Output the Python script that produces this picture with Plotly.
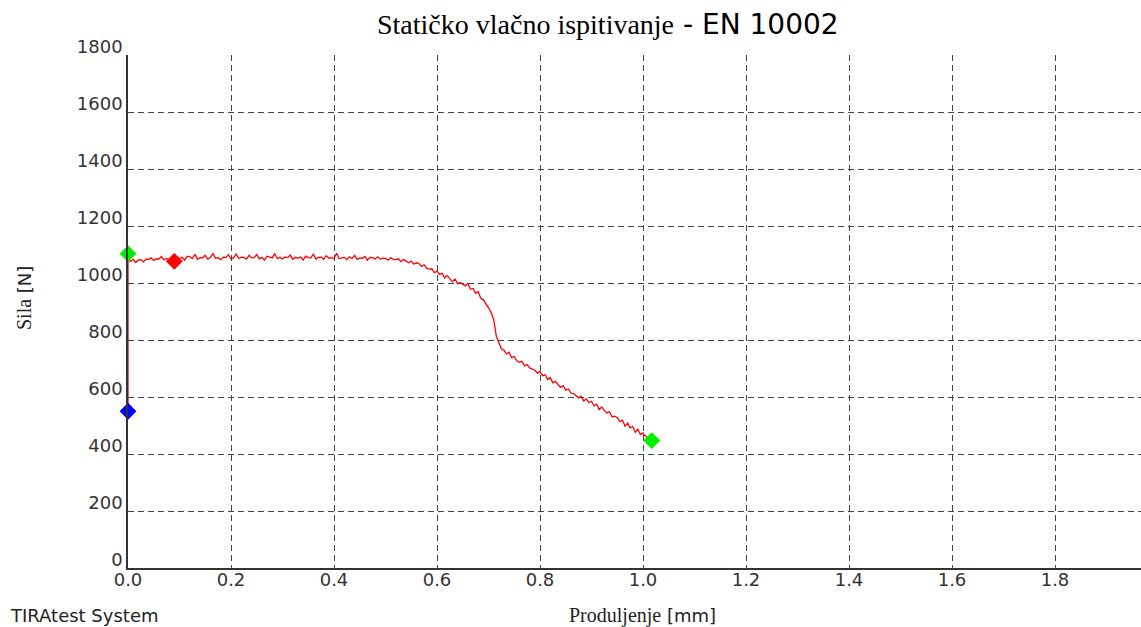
import plotly.graph_objects as go

# Force-elongation curve (Produljenje [mm], Sila [N])
elong = [0.0, 0.0,
         0.000, 0.005, 0.010, 0.015, 0.020, 0.025, 0.030, 0.035, 0.040, 0.045,
         0.050, 0.055, 0.060, 0.065, 0.070, 0.075, 0.080, 0.085, 0.090, 0.095,
         0.100, 0.105, 0.110, 0.115, 0.120, 0.125, 0.130, 0.135, 0.140, 0.145,
         0.150, 0.155, 0.160, 0.165, 0.170, 0.175, 0.180, 0.185, 0.190, 0.195,
         0.200, 0.205, 0.210, 0.215, 0.220, 0.225, 0.230, 0.235, 0.240, 0.245,
         0.250, 0.255, 0.260, 0.265, 0.270, 0.275, 0.280, 0.285, 0.290, 0.295,
         0.300, 0.305, 0.310, 0.315, 0.320, 0.325, 0.330, 0.335, 0.340, 0.345,
         0.350, 0.355, 0.360, 0.365, 0.370, 0.375, 0.380, 0.385, 0.390, 0.395,
         0.400, 0.405, 0.410, 0.415, 0.420, 0.425, 0.430, 0.435, 0.440, 0.445,
         0.450, 0.455, 0.460, 0.465, 0.470, 0.475, 0.480, 0.485, 0.490, 0.495,
         0.500, 0.505, 0.510, 0.515, 0.520, 0.525, 0.530, 0.535, 0.540, 0.545,
         0.550, 0.555, 0.560, 0.565, 0.570, 0.575, 0.580, 0.585, 0.590, 0.595,
         0.600, 0.605, 0.610, 0.615, 0.620, 0.625, 0.630, 0.635, 0.640, 0.645,
         0.650, 0.655, 0.660, 0.665, 0.670, 0.675, 0.680, 0.685, 0.690, 0.695,
         0.700, 0.705, 0.710, 0.715, 0.720, 0.725, 0.730, 0.735, 0.740, 0.745,
         0.750, 0.755, 0.760, 0.765, 0.770, 0.775, 0.780, 0.785, 0.790, 0.795,
         0.800, 0.805, 0.810, 0.815, 0.820, 0.825, 0.830, 0.835, 0.840, 0.845,
         0.850, 0.855, 0.860, 0.865, 0.870, 0.875, 0.880, 0.885, 0.890, 0.895,
         0.900, 0.905, 0.910, 0.915, 0.920, 0.925, 0.930, 0.935, 0.940, 0.945,
         0.950, 0.955, 0.960, 0.965, 0.970, 0.975, 0.980, 0.985, 0.990, 0.995,
         1.000, 1.005, 1.010, 1.015]

force = [550, 1080,
         1080, 1076, 1083, 1072, 1081, 1082, 1074, 1084, 1083, 1088,
         1079, 1085, 1084, 1093, 1081, 1086, 1083, 1078, 1084, 1076,
         1086, 1090, 1080, 1094, 1092, 1086, 1101, 1083, 1089, 1088,
         1097, 1084, 1090, 1103, 1087, 1089, 1082, 1091, 1090, 1099,
         1085, 1088, 1102, 1086, 1091, 1090, 1084, 1097, 1088, 1089,
         1100, 1085, 1090, 1081, 1094, 1092, 1088, 1103, 1086, 1090,
         1084, 1091, 1089, 1098, 1083, 1090, 1087, 1092, 1080, 1094,
         1089, 1088, 1101, 1084, 1090, 1091, 1083, 1096, 1087, 1089,
         1086, 1104, 1085, 1088, 1090, 1082, 1092, 1086, 1097, 1083,
         1088, 1087, 1093, 1080, 1090, 1089, 1084, 1092, 1083, 1087,
         1086, 1080, 1089, 1083, 1082, 1085, 1075, 1083, 1078, 1071,
         1077, 1066, 1071, 1068, 1058, 1064, 1052, 1049, 1050, 1036,
         1042, 1030, 1034, 1018, 1026, 1015, 1004, 1014, 998, 1002,
         995, 990, 998, 978, 981, 964, 970, 946, 941, 928,
         913, 897, 872, 815, 790, 769, 764, 751, 757, 738,
         742, 727, 722, 725, 709, 714, 702, 698, 694, 684,
         689, 675, 678, 661, 668, 650, 655, 644, 634, 640,
         624, 628, 614, 612, 606, 597, 603, 586, 593, 580,
         585, 569, 575, 556, 565, 552, 544, 548, 530, 533,
         527, 514, 519, 498, 508, 492, 497, 476, 487, 468,
         474, 462, 458, 450]

# Characteristic points
pt_x = [0.0, 0.0, 0.09, 1.017]
pt_y = [550, 1103, 1076, 447]
pt_colors = ["#0000ff", "#00ee00", "#ff0000", "#00ee00"]

x_ticks = [0.0, 0.2, 0.4, 0.6, 0.8, 1.0, 1.2, 1.4, 1.6, 1.8]
x_ticktext = ["0.0", "0.2", "0.4", "0.6", "0.8", "1.0", "1.2", "1.4", "1.6", "1.8"]
y_ticks = [0, 200, 400, 600, 800, 1000, 1200, 1400, 1600, 1800]

SANS = "DejaVu Sans"
SERIF = "Liberation Serif"

fig = go.Figure()
fig.add_trace(go.Scatter(x=elong, y=force, mode="lines",
                         line=dict(color="#ff0000", width=1.3),
                         hoverinfo="skip", showlegend=False))
fig.add_trace(go.Scatter(x=pt_x, y=pt_y, mode="markers",
                         marker=dict(symbol="diamond", size=13, color=pt_colors,
                                     line=dict(width=0)),
                         showlegend=False, cliponaxis=False))

grid = dict(showgrid=True, gridcolor="#444444", gridwidth=1, griddash="6px,4px",
            zeroline=False, ticks="", showline=True, linecolor="#333333",
            tickfont=dict(family=SANS, size=18, color="#333333"))

fig.update_xaxes(range=[0, 1.967], tickvals=x_ticks, ticktext=x_ticktext,
                 linewidth=2, ticklabelstandoff=-6, **grid)
fig.update_yaxes(range=[0, 1800], tickvals=y_ticks, linewidth=1.5,
                 ticklabelshift=-8, ticklabelstandoff=0, **grid)

L, R, T, B = 128, 0, 55, 59
W, H = 1141, 627
pw, ph = W - L - R, H - T - B


def px(xp):
    return (xp - L) / pw


def py(yp):
    return (H - B - yp) / ph


annos = [
    dict(text=f"<span style='font-family:{SERIF}'>Statičko vlačno ispitivanje</span>"
              f"<span style='font-family:{SANS};font-size:28px'> - EN 10002</span>",
         x=px(375), y=py(25), xanchor="left", yanchor="middle",
         font=dict(family=SERIF, size=28, color="#000000")),
    dict(text=f"<span style='font-family:{SERIF};font-size:20px'>Produljenje</span>"
              f"<span style='font-family:{SANS}'> [mm]</span>",
         x=px(642), y=py(615), xanchor="center", yanchor="middle",
         font=dict(family=SANS, size=18, color="#222222")),
    dict(text="TIRAtest System", x=px(8), y=py(615), xanchor="left", yanchor="middle",
         font=dict(family=SANS, size=18, color="#222222")),
    dict(text=f"<span style='font-family:{SERIF};font-size:20px'>Sila</span>"
              f"<span style='font-family:{SANS}'> [N]</span>",
         x=px(24), y=py(298), xanchor="center", yanchor="middle", textangle=-90,
         font=dict(family=SANS, size=18, color="#222222")),
]
for a in annos:
    fig.add_annotation(xref="paper", yref="paper", showarrow=False, **a)

fig.update_layout(width=W, height=H, margin=dict(l=L, r=R, t=T, b=B),
                  paper_bgcolor="white", plot_bgcolor="white", showlegend=False)

fig.write_html("out.html", config={"displayModeBar": False},
               post_script="document.body.style.margin='0';document.body.style.overflow='hidden';")
